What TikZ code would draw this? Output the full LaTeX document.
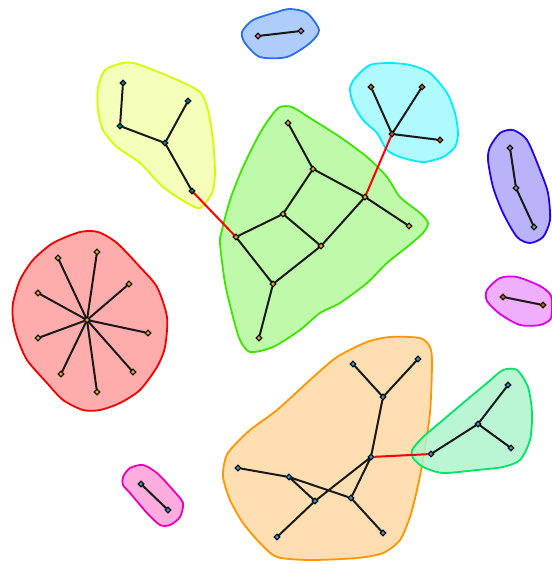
\documentclass[tikz,border=0pt]{standalone}
\pgfdeclarelayer{hulllayer}
\pgfdeclarelayer{edgelayer}
\pgfsetlayers{hulllayer,edgelayer,main}
\definecolor{bluO}{RGB}{40,110,240}\definecolor{bluF}{RGB}{175,205,250}
\definecolor{yelO}{RGB}{215,250,0}\definecolor{yelF}{RGB}{245,255,185}
\definecolor{grnO}{RGB}{60,230,0}\definecolor{grnF}{RGB}{190,250,170}
\definecolor{cyaO}{RGB}{0,235,255}\definecolor{cyaF}{RGB}{175,250,255}
\definecolor{purO}{RGB}{40,0,240}\definecolor{purF}{RGB}{185,180,250}
\definecolor{magO}{RGB}{220,0,240}\definecolor{magF}{RGB}{240,175,250}
\definecolor{redO}{RGB}{240,0,0}\definecolor{redF}{RGB}{255,172,172}
\definecolor{oraO}{RGB}{255,150,0}\definecolor{oraF}{RGB}{255,222,178}
\definecolor{mntO}{RGB}{0,230,100}\definecolor{mntF}{RGB}{175,245,205}
\definecolor{pnkO}{RGB}{240,0,180}\definecolor{pnkF}{RGB}{255,172,222}
\definecolor{mkGold}{RGB}{220,170,30}
\definecolor{mkTeal}{RGB}{0,130,120}
\definecolor{mkBrown}{RGB}{200,95,10}
\definecolor{mkGray}{RGB}{140,140,140}
\definecolor{mkBlue}{RGB}{60,145,205}
\definecolor{mkPink}{RGB}{200,110,170}
\tikzset{
  hull/.style={line width=1.8pt,smooth cycle,tension=0.45},
  vtx/.style={rectangle,rotate=45,draw=black,line width=1pt,fill=#1,minimum size=4pt,inner sep=0pt},
  edge/.style={line width=2pt,black!90},
  bridge/.style={line width=2pt,red}
}
\begin{document}
\begin{tikzpicture}[x=1pt,y=-1pt]
\useasboundingbox (0,0) rectangle (551,564);
\begin{pgfonlayer}{hulllayer}
% blue
\draw[hull,draw=bluO,fill=bluF] plot coordinates {(242,32)(253,20)(277,12)(290,9)(307,13)(319,30)(310,43)(287,57)(260,57)(245,43)};
% yellow
\draw[hull,draw=yelO,fill=yelF] plot coordinates {(98,88)(105,70)(123,63)(137,64)(173,78)(200,92)(208,110)(213,140)(215,173)(212,193)(200,208)(187,203)(163,187)(140,163)(117,147)(103,130)(98,110)};
% cyan
\draw[hull,draw=cyaO,fill=cyaF] plot coordinates {(350,88)(356,77)(370,65)(390,63)(410,65)(430,73)(447,93)(455,113)(458,133)(455,147)(443,157)(423,162)(400,157)(387,150)(377,133)(363,120)(353,103)};
% green
\draw[hull,draw=grnO,fill=grnF] plot coordinates {(272,115)(280,107)(292,107)(310,118)(340,137)(367,157)(387,177)(400,197)(420,213)(428,223)(423,233)(407,247)(387,263)(367,283)(340,303)(320,313)(300,330)(273,347)(250,352)(240,340)(233,317)(225,283)(220,243)(222,230)(230,200)(243,167)(260,133)};
% purple
\draw[hull,draw=purO,fill=purF] plot coordinates {(490,147)(500,133)(513,130)(527,140)(540,170)(548,193)(550,220)(543,237)(530,243)(517,237)(503,213)(493,187)(488,160)};
% magenta
\draw[hull,draw=magO,fill=magF] plot coordinates {(487,290)(500,278)(517,277)(540,286)(551,296)(551,318)(540,325)(520,325)(500,314)(487,301)};
% red
\draw[hull,draw=redO,fill=redF] plot coordinates {(13,303)(20,280)(33,260)(53,243)(80,232)(98,232)(117,243)(140,267)(157,287)(167,317)(165,347)(157,367)(140,390)(120,403)(100,410)(83,410)(63,400)(47,383)(27,360)(17,337)(13,320)};
% orange
\draw[hull,draw=oraO,fill=oraF] plot coordinates {(225,460)(230,450)(250,430)(277,410)(310,380)(337,357)(367,342)(390,337)(420,338)(430,347)(432,363)(430,413)(423,460)(417,490)(410,517)(400,540)(383,553)(357,558)(310,560)(277,557)(260,543)(243,523)(230,500)(223,477)};
% mint
\draw[hull,draw=mntO,fill=mntF,fill opacity=0.85] plot coordinates {(412,450)(423,437)(443,420)(463,403)(487,383)(503,370)(517,370)(528,387)(532,413)(530,440)(520,460)(503,467)(477,470)(443,473)(423,467)(413,458)};
% pink
\draw[hull,draw=pnkO,fill=pnkF] plot coordinates {(123,477)(130,468)(143,465)(157,473)(173,490)(183,503)(180,517)(170,525)(160,525)(147,513)(130,493)(123,485)};
\end{pgfonlayer}

% blue cluster
\node[vtx=mkPink] (b1) at (258,36) {};
\node[vtx=mkPink] (b2) at (301,31) {};
% yellow cluster
\node[vtx=mkTeal] (y1) at (123,83) {};
\node[vtx=mkTeal] (y2) at (120,126) {};
\node[vtx=mkTeal] (y3) at (165,143) {};
\node[vtx=mkTeal] (y4) at (188,101) {};
\node[vtx=mkTeal] (y5) at (192,191) {};
% green cluster
\node[vtx=mkGold] (gA) at (288,123) {};
\node[vtx=mkGold] (gB) at (313,169) {};
\node[vtx=mkGold] (gC) at (365,197) {};
\node[vtx=mkGold] (gD) at (409,226) {};
\node[vtx=mkGold] (gE) at (283,214) {};
\node[vtx=mkGold] (gF) at (236,237) {};
\node[vtx=mkGold] (gG) at (321,246) {};
\node[vtx=mkGold] (gH) at (273,284) {};
\node[vtx=mkGold] (gI) at (259,338) {};
% cyan cluster
\node[vtx=mkBrown] (c1) at (371,87) {};
\node[vtx=mkBrown] (c2) at (422,87) {};
\node[vtx=mkBrown] (c0) at (392,134) {};
\node[vtx=mkBrown] (c3) at (440,140) {};
% purple cluster
\node[vtx=mkGray] (p1) at (510,148) {};
\node[vtx=mkGray] (p2) at (516,188) {};
\node[vtx=mkGray] (p3) at (534,227) {};
% magenta cluster
\node[vtx=mkBrown] (m1) at (503,297) {};
\node[vtx=mkBrown] (m2) at (543,305) {};
% red cluster
\node[vtx=mkGold] (r0) at (87,320) {};
\node[vtx=mkGold] (r1) at (97,252) {};
\node[vtx=mkGold] (r2) at (58,258) {};
\node[vtx=mkGold] (r3) at (129,284) {};
\node[vtx=mkGold] (r4) at (38,293) {};
\node[vtx=mkGold] (r5) at (148,333) {};
\node[vtx=mkGold] (r6) at (38,338) {};
\node[vtx=mkGold] (r7) at (61,374) {};
\node[vtx=mkGold] (r8) at (133,372) {};
\node[vtx=mkGold] (r9) at (97,392) {};
% orange cluster
\node[vtx=mkBlue] (o1) at (353,364) {};
\node[vtx=mkBlue] (o2) at (418,359) {};
\node[vtx=mkBlue] (o3) at (383,397) {};
\node[vtx=mkBlue] (o4) at (371,457) {};
\node[vtx=mkBlue] (o5) at (238,468) {};
\node[vtx=mkBlue] (o6) at (289,477) {};
\node[vtx=mkBlue] (o7) at (315,501) {};
\node[vtx=mkBlue] (o8) at (351,498) {};
\node[vtx=mkBlue] (o9) at (277,537) {};
\node[vtx=mkBlue] (o10) at (383,533) {};
% mint cluster
\node[vtx=mkBlue] (n1) at (431,454) {};
\node[vtx=mkBlue] (n2) at (478,424) {};
\node[vtx=mkBlue] (n3) at (508,385) {};
\node[vtx=mkBlue] (n4) at (511,448) {};
% pink cluster
\node[vtx=mkBlue] (k1) at (141,484) {};
\node[vtx=mkBlue] (k2) at (168,510) {};

\begin{pgfonlayer}{edgelayer}
\draw[edge] (b1) -- (b2);
\draw[edge] (y1) -- (y2) (y2) -- (y3) (y3) -- (y4) (y3) -- (y5);
\draw[edge] (gA) -- (gB) (gB) -- (gC) (gC) -- (gD) (gB) -- (gE) (gE) -- (gF)
  (gE) -- (gG) (gG) -- (gC) (gF) -- (gH) (gH) -- (gG) (gH) -- (gI);
\draw[edge] (c0) -- (c1) (c0) -- (c2) (c0) -- (c3);
\draw[edge] (p1) -- (p2) (p2) -- (p3);
\draw[edge] (m1) -- (m2);
\foreach \i in {1,...,9} {\draw[edge] (r0) -- (r\i);}
\draw[edge] (o1) -- (o3) (o2) -- (o3) (o3) -- (o4) (o5) -- (o6) (o6) -- (o8)
  (o6) -- (o7) (o4) -- (o7) (o4) -- (o8) (o7) -- (o9) (o8) -- (o10);
\draw[edge] (n1) -- (n2) (n2) -- (n3) (n2) -- (n4);
\draw[edge] (k1) -- (k2);
\draw[bridge] (y5) -- (gF);
\draw[bridge] (gC) -- (c0);
\draw[bridge] (o4) -- (n1);
\end{pgfonlayer}
\end{tikzpicture}
\end{document}
